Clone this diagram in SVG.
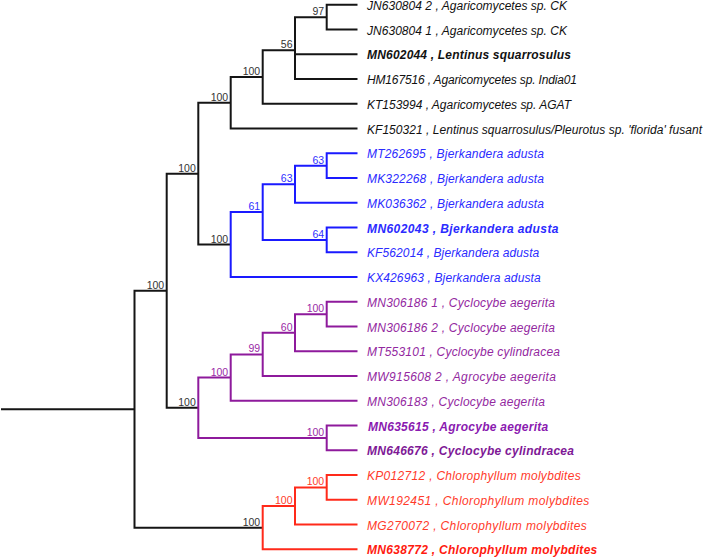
<svg xmlns="http://www.w3.org/2000/svg" width="709" height="559" viewBox="0 0 709 559">
<style>
.br{fill:none;stroke-width:2;stroke-linejoin:miter}
.k{stroke:#151515}.b{stroke:#1a1aff}.p{stroke:#8e1a9c}.r{stroke:#ff2a1a}
.lf{font-family:"Liberation Sans",Arial,sans-serif;font-size:12px;font-style:italic}
.bd{font-weight:bold}
.bs{font-family:"Liberation Sans",Arial,sans-serif;font-size:10.5px;text-anchor:end}
.tk{fill:#111}.tb{fill:#2b2bff}.tp{fill:#93289f}.tr{fill:#ff3a2a}
.bk{fill:#333}.bb{fill:#3030ff}.bp{fill:#9a2aa6}.brd{fill:#ff3a2a}
</style>
<rect width="709" height="559" fill="#fff"/>
<g id="connectors">
<path class="br k" d="M1 409.18H134.5"/>
<path class="br k" d="M166.7 290.71H134.5V527.64H262.7"/>
<path class="br k" d="M198.3 173.67H166.7V407.76H198.3"/>
<path class="br k" d="M230.7 102.77H198.3V244.57H230.7"/>
<path class="br k" d="M262.7 76.99H230.7V128.55H357.5"/>
<path class="br k" d="M295 50.18H262.7V103.8H357.5"/>
<path class="br k" d="M326.7 17.18H295V79.05H357.5M295 54.3H357.5"/>
<path class="br k" d="M357.5 4.8H326.7V29.55H357.5"/>
<path class="br b" d="M262.7 212.08H230.7V277.05H357.5"/>
<path class="br b" d="M295 184.24H262.7V239.93H326.7"/>
<path class="br b" d="M326.7 165.68H295V202.8H357.5"/>
<path class="br b" d="M357.5 153.3H326.7V178.05H357.5"/>
<path class="br b" d="M357.5 227.55H326.7V252.3H357.5"/>
<path class="br p" d="M230.7 377.6H198.3V437.93H326.7"/>
<path class="br p" d="M262.7 354.39H230.7V400.8H357.5"/>
<path class="br p" d="M295 332.74H262.7V376.05H357.5"/>
<path class="br p" d="M326.7 314.18H295V351.3H357.5"/>
<path class="br p" d="M357.5 301.8H326.7V326.55H357.5"/>
<path class="br p" d="M357.5 425.55H326.7V450.3H357.5"/>
<path class="br r" d="M295 505.99H262.7V549.3H357.5"/>
<path class="br r" d="M326.7 487.43H295V524.55H357.5"/>
<path class="br r" d="M357.5 475.05H326.7V499.8H357.5"/>
</g>
<g id="support">
<g id="n1"><text class="bs bk" x="324.2" y="15.2">97</text></g>
<g id="n2"><text class="bs bk" x="292.5" y="48.2">56</text></g>
<g id="n3"><text class="bs bk" x="260.2" y="75">100</text></g>
<g id="n4"><text class="bs bk" x="228.2" y="100.8">100</text></g>
<g id="n5"><text class="bs bk" x="195.8" y="171.7">100</text></g>
<g id="n6"><text class="bs bk" x="164.2" y="288.7">100</text></g>
<g id="n7"><text class="bs bk" x="228.2" y="242.6">100</text></g>
<g id="n8"><text class="bs bb" x="260.2" y="210.1">61</text></g>
<g id="n9"><text class="bs bb" x="292.5" y="182.2">63</text></g>
<g id="n10"><text class="bs bb" x="324.2" y="163.7">63</text></g>
<g id="n11"><text class="bs bb" x="324.2" y="237.9">64</text></g>
<g id="n12"><text class="bs bk" x="195.8" y="405.8">100</text></g>
<g id="n13"><text class="bs bp" x="228.2" y="375.6">100</text></g>
<g id="n14"><text class="bs bp" x="260.2" y="352.4">99</text></g>
<g id="n15"><text class="bs bp" x="292.5" y="330.7">60</text></g>
<g id="n16"><text class="bs bp" x="324.2" y="312.2">100</text></g>
<g id="n17"><text class="bs bp" x="324.2" y="435.9">100</text></g>
<g id="n18"><text class="bs bk" x="260.2" y="525.6">100</text></g>
<g id="n19"><text class="bs brd" x="292.5" y="504">100</text></g>
<g id="n20"><text class="bs brd" x="324.2" y="485.4">100</text></g>
</g>
<g id="leaves">
<g id="l0"><text class="lf tk" x="367" y="9.8" textLength="200" lengthAdjust="spacing">JN630804 2 , Agaricomycetes sp. CK</text></g>
<g id="l1"><text class="lf tk" x="367" y="34.55" textLength="200" lengthAdjust="spacing">JN630804 1 , Agaricomycetes sp. CK</text></g>
<g id="l2"><text class="lf bd tk" x="367" y="59.3" textLength="204" lengthAdjust="spacing">MN602044 , Lentinus squarrosulus</text></g>
<g id="l3"><text class="lf tk" x="367" y="84.05" textLength="210" lengthAdjust="spacing">HM167516 , Agaricomycetes sp. India01</text></g>
<g id="l4"><text class="lf tk" x="367" y="108.8" textLength="204" lengthAdjust="spacing">KT153994 , Agaricomycetes sp. AGAT</text></g>
<g id="l5"><text class="lf tk" x="367" y="133.55" textLength="335" lengthAdjust="spacing">KF150321 , Lentinus squarrosulus/Pleurotus sp. 'florida' fusant</text></g>
<g id="l6"><text class="lf tb" x="367" y="158.3" textLength="177" lengthAdjust="spacing">MT262695 , Bjerkandera adusta</text></g>
<g id="l7"><text class="lf tb" x="367" y="183.05" textLength="177" lengthAdjust="spacing">MK322268 , Bjerkandera adusta</text></g>
<g id="l8"><text class="lf tb" x="367" y="207.8" textLength="177" lengthAdjust="spacing">MK036362 , Bjerkandera adusta</text></g>
<g id="l9"><text class="lf bd tb" x="367" y="232.55" textLength="191.5" lengthAdjust="spacing">MN602043 , Bjerkandera adusta</text></g>
<g id="l10"><text class="lf tb" x="367" y="257.3" textLength="172.3" lengthAdjust="spacing">KF562014 , Bjerkandera adusta</text></g>
<g id="l11"><text class="lf tb" x="367" y="282.05" textLength="173.7" lengthAdjust="spacing">KX426963 , Bjerkandera adusta</text></g>
<g id="l12"><text class="lf tp" x="367" y="306.8" textLength="188" lengthAdjust="spacing">MN306186 1 , Cyclocybe aegerita</text></g>
<g id="l13"><text class="lf tp" x="367" y="331.55" textLength="188" lengthAdjust="spacing">MN306186 2 , Cyclocybe aegerita</text></g>
<g id="l14"><text class="lf tp" x="367" y="356.3" textLength="193" lengthAdjust="spacing">MT553101 , Cyclocybe cylindracea</text></g>
<g id="l15"><text class="lf tp" x="367" y="381.05" textLength="189" lengthAdjust="spacing">MW915608 2 , Agrocybe aegerita</text></g>
<g id="l16"><text class="lf tp" x="367" y="405.8" textLength="178" lengthAdjust="spacing">MN306183 , Cyclocybe aegerita</text></g>
<g id="l17"><text class="lf bd" fill="#8a1ab0" x="368" y="430.55" textLength="180.3" lengthAdjust="spacing">MN635615 , Agrocybe aegerita</text></g>
<g id="l18"><text class="lf bd" fill="#7e1896" x="367" y="455.3" textLength="207" lengthAdjust="spacing">MN646676 , Cyclocybe cylindracea</text></g>
<g id="l19"><text class="lf tr" x="367" y="480.05" textLength="213.7" lengthAdjust="spacing">KP012712 , Chlorophyllum molybdites</text></g>
<g id="l20"><text class="lf tr" x="367" y="504.8" textLength="222.3" lengthAdjust="spacing">MW192451 , Chlorophyllum molybdites</text></g>
<g id="l21"><text class="lf tr" x="367" y="529.55" textLength="219.7" lengthAdjust="spacing">MG270072 , Chlorophyllum molybdites</text></g>
<g id="l22"><text class="lf bd" fill="#ff1a10" x="367" y="554.3" textLength="230.3" lengthAdjust="spacing">MN638772 , Chlorophyllum molybdites</text></g>
</g>
</svg>
